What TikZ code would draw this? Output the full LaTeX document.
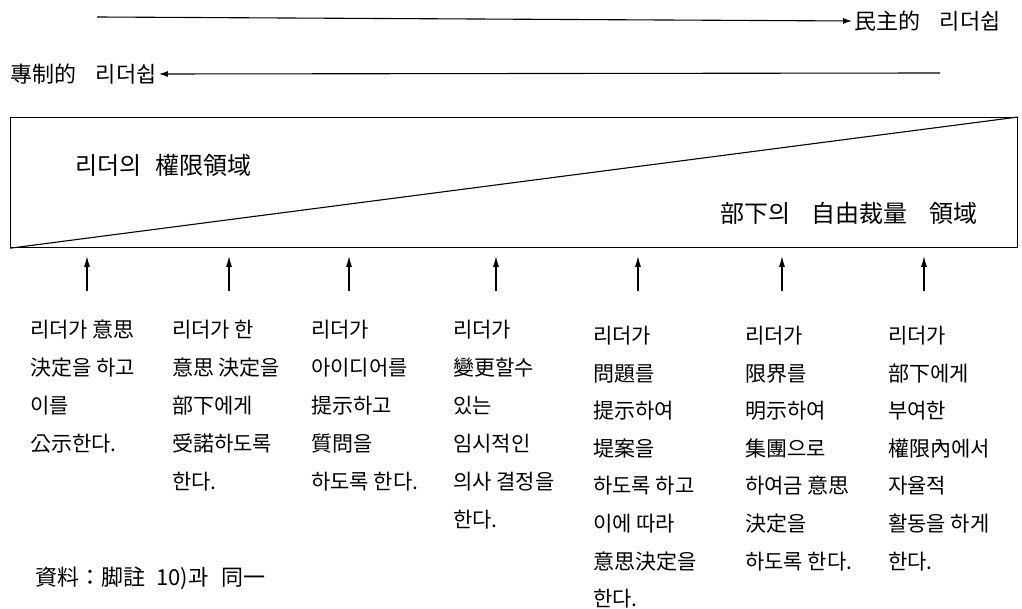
\documentclass[tikz,border=0pt]{standalone}
\usepackage{fontspec}
\setmainfont{Noto Sans CJK KR}
\usetikzlibrary{arrows.meta}
\newcommand{\wsp}{\hspace{0.9em}}
\begin{document}
\begin{tikzpicture}[x=1pt,y=-1pt,
  arr/.style={line width=1.1pt,-{Latex[length=9pt,width=6pt]}},
  lbl/.style={anchor=west,inner sep=2pt,font=\fontsize{22}{26}\selectfont},
  boxlbl/.style={anchor=west,inner sep=0pt,font=\fontsize{24}{28}\selectfont},
  col/.style={anchor=north west,inner sep=0pt,align=left},
  uparr/.style={line width=1.1pt,-{Latex[length=11pt,width=6pt]}}]
\useasboundingbox (0,0) rectangle (1022,609);
% top arrows
\node[lbl] (demo) at (852,21) {民主的\wsp 리더쉽};
\coordinate (ds) at (97,17);
\draw[arr] (ds) -- (demo.west);
\node[lbl] (auto) at (8,74) {專制的\wsp 리더쉽};
\coordinate (as) at (940,73);
\draw[arr] (as) -- (auto.east);
% box
\node[draw,line width=1.2pt,anchor=north west,minimum width=1007pt,minimum height=130pt,inner sep=0pt] (box) at (10,117) {};
\draw[line width=1.1pt] (box.south west) -- (box.north east);
\node[boxlbl] (lead) at (75,165) {리더의\hspace{0.6em}權限領域};
\node[boxlbl] (sub) at (720,213) {部下의\wsp 自由裁量\wsp 領域};
% columns
\begin{scope}[font=\fontsize{21}{38}\selectfont]
\node[col] (c1) at (30,320) {리더가 意思\\決定을 하고\\이를\\公示한다.};
\node[col] (c2) at (172,320) {리더가 한\\意思 決定을\\部下에게\\受諾하도록\\한다.};
\node[col] (c3) at (311,320) {리더가\\아이디어를\\提示하고\\質問을\\하도록 한다.};
\node[col] (c4) at (453,320) {리더가\\變更할수\\있는\\임시적인\\의사 결정을\\한다.};
\end{scope}
\begin{scope}[font=\fontsize{21}{37.6}\selectfont]
\node[col] (c5) at (593,326) {리더가\\問題를\\提示하여\\堤案을\\하도록 하고\\이에 따라\\意思決定을\\한다.};
\node[col] (c6) at (745,326) {리더가\\限界를\\明示하여\\集團으로\\하여금 意思\\決定을\\하도록 한다.};
\node[col] (c7) at (888,326) {리더가\\部下에게\\부여한\\權限內에서\\자율적\\활동을 하게\\한다.};
\end{scope}
% up arrows
\foreach \i/\x in {1/87,2/229,3/349,4/496,5/638,6/782,7/924}{
  \coordinate (t\i) at (\x,291);
  \coordinate (h\i) at (\x,256);
  \draw[uparr] (t\i) -- (h\i);
}
\node[lbl] (src) at (33,578) {資料：脚註\hspace{0.5em}10)과\hspace{0.6em}同一};
\end{tikzpicture}
\end{document}
